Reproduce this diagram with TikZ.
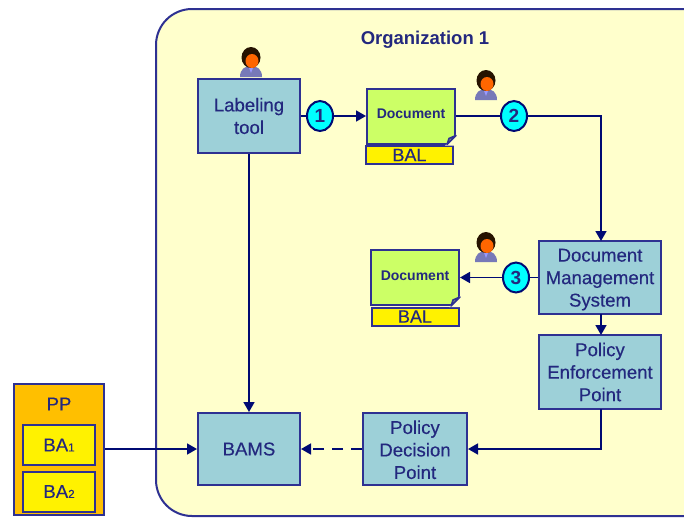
\documentclass[tikz,border=0pt]{standalone}
\usepackage{fontspec}
\setmainfont{Liberation Sans}
\newfontfamily\semifont[FakeBold=0.35]{Liberation Sans}
\usetikzlibrary{arrows.meta,shapes.geometric}
\definecolor{navyline}{HTML}{000A73}
\definecolor{edgeblue}{HTML}{2E3192}
\definecolor{txtblue}{HTML}{23287E}
\definecolor{orgfill}{HTML}{FFFFCC}
\definecolor{boxfill}{HTML}{9DD0D8}
\definecolor{docfill}{HTML}{CCFF66}
\definecolor{ppfill}{HTML}{FFBF00}
\definecolor{marker}{HTML}{00FFFF}
\newcommand{\liftline}[1]{\rule{0pt}{#1pt}}
\tikzset{
  every node/.style={text=txtblue,font=\semifont\fontsize{18.6}{22.5}\selectfont},
  bluebox/.style={draw=edgeblue,line width=2pt,fill=boxfill,align=center,inner sep=0pt},
  docbox/.style={draw=edgeblue,line width=2pt,fill=docfill,inner sep=0pt,minimum width=88pt,minimum height=55pt,font=\fontsize{14}{16}\selectfont\bfseries},
  balbox/.style={draw=edgeblue,line width=2pt,fill=yellow,inner sep=0pt,minimum width=87pt,minimum height=18pt,font=\semifont\fontsize{18}{18}\selectfont},
  babox/.style={draw=edgeblue,line width=2pt,fill=yellow,inner sep=0pt,minimum width=72pt,minimum height=40pt},
  marknode/.style={ellipse,draw=navyline,line width=2pt,fill=marker,inner sep=0pt,minimum width=26pt,minimum height=30pt,font=\fontsize{19}{20}\selectfont\bfseries},
  conn/.style={draw=navyline,line width=1.7pt},
  arrowconn/.style={conn,-{Triangle[length=10pt,width=11pt]}},
  person/.pic={
    \fill[edgeblue!65!white] (-11,15) .. controls (-11,7) and (-6,4) .. (0,4) .. controls (6,4) and (11,7) .. (11,15) -- cycle;
    \fill[white!60!blue] (-2.5,4.5) -- (2.5,4.5) -- (0,11) -- cycle;
    \fill[black!85!orange] (0,-4.5) ellipse (9.5 and 10.5);
    \fill[orange!80!red] (1,-1) ellipse (6.5 and 7);
  }
}
\newcommand{\docfold}[1]{%
  \fill[orgfill] ([shift={(1.2,1.2)}]#1.south east) -- ([shift={(1.2,-11)}]#1.south east) -- ([shift={(-11,1.2)}]#1.south east) -- cycle;
  \draw[edgeblue,line width=1.6pt,fill=edgeblue!45!docfill,line join=round] ([shift={(0,-9)}]#1.south east) -- ([shift={(-9,0)}]#1.south east) -- ([shift={(-7,-6)}]#1.south east) -- cycle;
}
\begin{document}
\begin{tikzpicture}[x=1pt,y=-1pt]
\useasboundingbox (0,0) rectangle (684,517);
\begin{scope}
  \clip (0,0) rectangle (684,517);
  \draw[edgeblue,line width=2pt,fill=orgfill,rounded corners=36pt] (156,9) rectangle (720,516);
\end{scope}
\node[font=\fontsize{18.5}{20}\selectfont\bfseries] (orgtitle) at (425,39.5) {Organization 1};

\node[bluebox,minimum width=102pt,minimum height=74pt] (lab) at (249,116) {Labeling\\tool};
\node[docbox] (doca) at (411,116) {\raisebox{4pt}{Document}};
\node[balbox] (bala) at (409.5,155) {BAL};
\node[marknode] (m1) at (320,116) {1};
\node[marknode] (m2) at (514,116) {2};

\node[bluebox,minimum width=122pt,minimum height=73pt] (dms) at (600,277.5) {\liftline{17}Document\\Management\\System};
\node[docbox] (docb) at (415,277.5) {\raisebox{4pt}{Document}};
\node[balbox] (balb) at (415,316.5) {BAL};
\node[marknode] (m3) at (516,277.5) {3};

\node[bluebox,minimum width=122pt,minimum height=74pt] (pep) at (600,372) {Policy\\Enforcement\\Point};
\node[bluebox,minimum width=104pt,minimum height=72pt] (pdp) at (415,449) {\liftline{15}Policy\\Decision\\Point};
\node[bluebox,minimum width=102pt,minimum height=72pt] (bams) at (249,449) {BAMS};

\node[draw=edgeblue,line width=2pt,fill=ppfill,minimum width=90pt,minimum height=131pt,inner sep=0pt] (pp) at (59,449) {};
\node (pplabel) at (59,404) {PP};
\node[babox] (ba1) at (59,445) {BA{\fontsize{11.5}{12}\selectfont 1}};
\node[babox] (ba2) at (59,491.5) {BA{\fontsize{11.5}{12}\selectfont 2}};

\docfold{doca}
\docfold{docb}

\path[conn] (lab) -- (m1);
\path[arrowconn] (m1) -- (doca);
\path[conn] (doca) -- (m2);
\coordinate (turna) at (601,116);
\coordinate (dmstop) at (601,241);
\coordinate (dmsbot) at (601,314);
\coordinate (peptop) at (601,335);
\coordinate (pepbot) at (601,409);
\coordinate (turnb) at (601,449);
\path[arrowconn] (m2) -- (turna) -- (dmstop);
\path[conn] (dms) -- (m3);
\path[arrowconn] (m3) -- (docb);
\path[arrowconn] (dmsbot) -- (peptop);
\path[arrowconn] (pepbot) -- (turnb) -- (pdp.east);
\path[arrowconn,dash pattern=on 11pt off 8pt] (pdp) -- (bams);
\path[arrowconn] (lab.south) -- (bams.north);
\path[arrowconn] (pp) -- (bams);

\pic at (251,62) {person};
\pic at (486,85) {person};
\pic at (486,247) {person};
\end{tikzpicture}
\end{document}
